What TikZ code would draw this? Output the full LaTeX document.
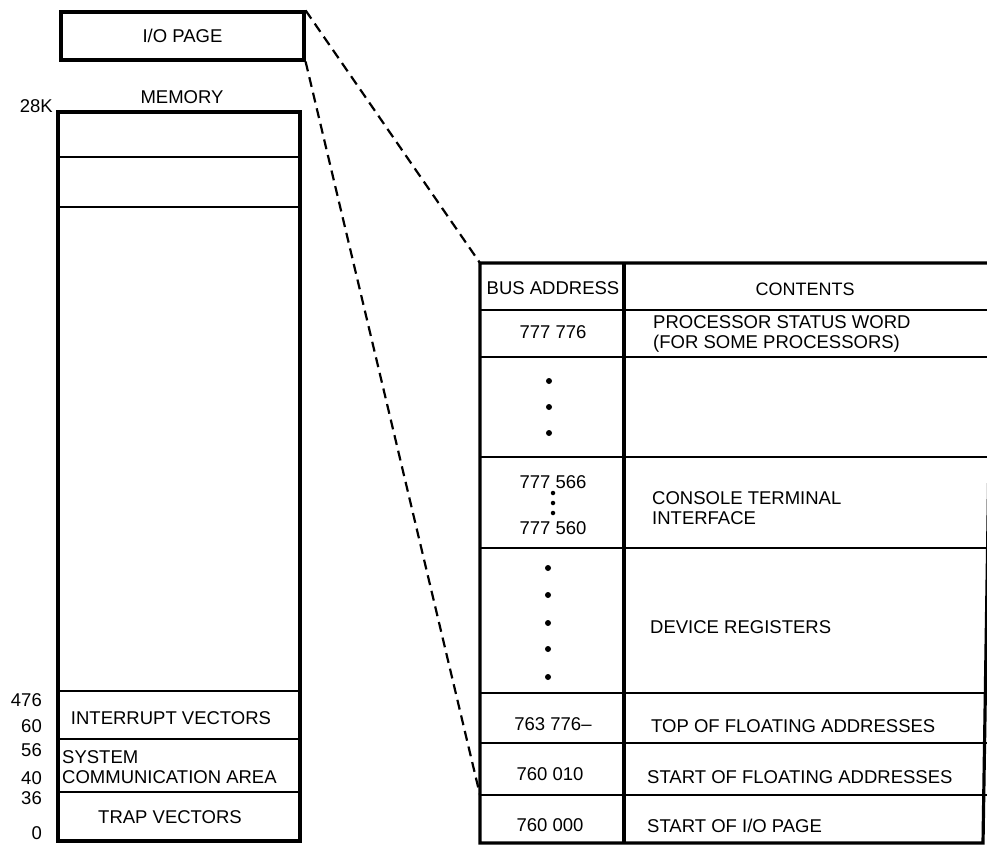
\documentclass[tikz,border=0pt]{standalone}
\usepackage{fontspec}
\setmainfont{Liberation Sans}
\begin{document}
\begin{tikzpicture}[x=1pt,y=-1pt,
  font=\fontsize{18.5}{20}\selectfont,
  thickline/.style={line width=3.2pt},
  thinline/.style={line width=2.2pt},
  conn/.style={line width=2.2pt, dash pattern=on 10pt off 6pt},
  txt/.style={inner sep=0pt, align=left},
  bigdot/.style={circle, fill=black, inner sep=0pt, minimum size=6pt},
  smalldot/.style={circle, fill=black, inner sep=0pt, minimum size=4.5pt}]
\useasboundingbox (0,0) rectangle (987,848);
\clip (0,0) rectangle (987,848);

% I/O page box
\node[draw, thickline, minimum width=243pt, minimum height=48pt, inner sep=0pt] (io) at (182.5,36) {I/O PAGE};

% memory
\node[txt] (memlbl) at (182,97) {MEMORY};
\node[txt, anchor=east] (k28) at (53,106) {28K};
\draw[thickline] (58,112) rectangle (300,841);
\draw[thinline] (58,157) -- (300,157);
\draw[thinline] (58,207) -- (300,207);
\draw[thinline] (58,691) -- (300,691);
\draw[thinline] (58,739) -- (300,739);
\draw[thinline] (58,792) -- (300,792);
\node[txt] (intv) at (171,718) {INTERRUPT VECTORS};
\node[txt, anchor=west] (sysc) at (62,767) {SYSTEM\\COMMUNICATION AREA};
\node[txt] (trapv) at (170,817) {TRAP VECTORS};
\node[txt, anchor=east] (n476) at (42,700) {476};
\node[txt, anchor=east] (n60) at (42,726) {60};
\node[txt, anchor=east] (n56) at (42,750) {56};
\node[txt, anchor=east] (n40) at (42,778) {40};
\node[txt, anchor=east] (n36) at (42,798) {36};
\node[txt, anchor=east] (n0) at (42,833) {0};

% table
\coordinate (tTL) at (480,263);
\coordinate (tIO) at (480,795);
\draw[thickline] (995,263) -- (tTL) -- (480,843) -- (983,843) -- (992,263);
\draw[thickline] (624,263) -- (624,843);
\foreach \yy in {310,357,457,548,693,743,795}
  \draw[thinline] (480,\yy) -- (995,\yy);

\node[txt] (hbus) at (553,288) {BUS ADDRESS};
\node[txt, font=\fontsize{18}{20}\selectfont] (hcont) at (805,289) {CONTENTS};

\node[txt] (a1) at (553,332) {777 776};
\node[txt, anchor=west] (c1) at (653,334) {PROCESSOR STATUS WORD\\(FOR SOME PROCESSORS)};

\node[bigdot] (d1) at (549,381) {};
\node[bigdot] (d2) at (549,407) {};
\node[bigdot] (d3) at (549,433) {};

\node[txt] (a2) at (553,482) {777 566};
\node[smalldot] (s1) at (553,493) {};
\node[smalldot] (s2) at (553,503) {};
\node[smalldot] (s3) at (553,513) {};
\node[txt] (a3) at (553,528) {777 560};
\node[txt, anchor=west] (c2) at (652,508) {CONSOLE TERMINAL\\INTERFACE};

\node[bigdot] (e1) at (548,568) {};
\node[bigdot] (e2) at (548,595) {};
\node[bigdot] (e3) at (548,623) {};
\node[bigdot] (e4) at (548,649) {};
\node[bigdot] (e5) at (548,677) {};
\node[txt, anchor=west] (c3) at (650,627) {DEVICE REGISTERS};

\node[txt] (a4) at (553,724) {763 776\textendash};
\node[txt, anchor=west] (c4) at (651,726) {TOP OF FLOATING ADDRESSES};
\node[txt] (a5) at (550,774) {760 010};
\node[txt, anchor=west] (c5) at (647,777) {START OF FLOATING ADDRESSES};
\node[txt] (a6) at (550,825) {760 000};
\node[txt, anchor=west] (c6) at (647,826) {START OF I/O PAGE};

% connectors
\draw[conn] (io.north east) -- (tTL);
\draw[conn] (io.south east) -- (tIO);
\end{tikzpicture}
\end{document}
